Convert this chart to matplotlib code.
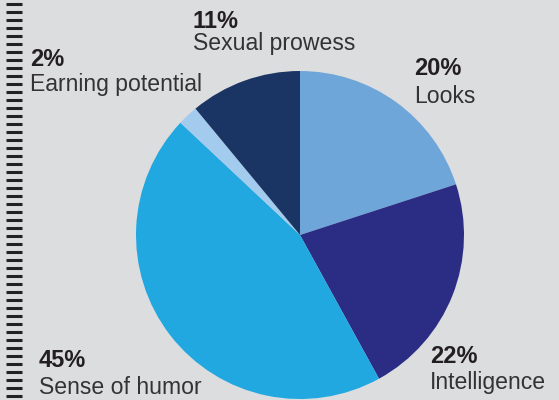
import numpy as np
import matplotlib
matplotlib.use("Agg")
import matplotlib.pyplot as plt

# Survey shares: what matters most in a partner
categories = ["Looks", "Intelligence", "Sense of humor", "Earning potential", "Sexual prowess"]
shares = [20, 22, 45, 2, 11]
colors = ["#6fa6da", "#2b2d84", "#22a8e0", "#a3cbee", "#1a3563"]

W, H = 559, 400
BG = "#dcdddf"
TXT = "#231f20"

fig = plt.figure(figsize=(W / 100, H / 100), dpi=100, facecolor=BG)
ax = fig.add_axes([0, 0, 1, 1])
ax.set_facecolor(BG)

# pie, drawn clockwise from twelve o'clock
cx, cy, r = 300, H - 235, 164
ax.pie(shares, colors=colors, startangle=90, counterclock=False,
       center=(cx, cy), radius=r, frame=True,
       wedgeprops=dict(linewidth=0))

# ruler marks down the left edge
for y in np.arange(4, H + 8, 8):
    ax.plot([6, 22], [H - y, H - y], color="#222222", lw=2.2,
            solid_capstyle="butt")

# label anchors: (x, baseline of percentage, baseline of name)
label_pos = {
    "Looks": (414, 75, 103),
    "Intelligence": (430, 363, 389),
    "Sense of humor": (39, 367, 394),
    "Earning potential": (30, 66, 91),
    "Sexual prowess": (193, 28, 50),
}
font = ["Liberation Sans", "DejaVu Sans"]
for name, val in zip(categories, shares):
    x, yp, yn = label_pos[name]
    ax.text(x, H - yp, f"{val}%", fontsize=17, fontweight="bold",
            color=TXT, va="baseline", ha="left", family=font)
    ax.text(x, H - yn, name, fontsize=16.6, color="#333333",
            va="baseline", ha="left", family=font)

ax.set_xlim(0, W)
ax.set_ylim(0, H)
ax.set_aspect("equal")
ax.axis("off")

fig.savefig("out.png", dpi=100, facecolor=BG)
